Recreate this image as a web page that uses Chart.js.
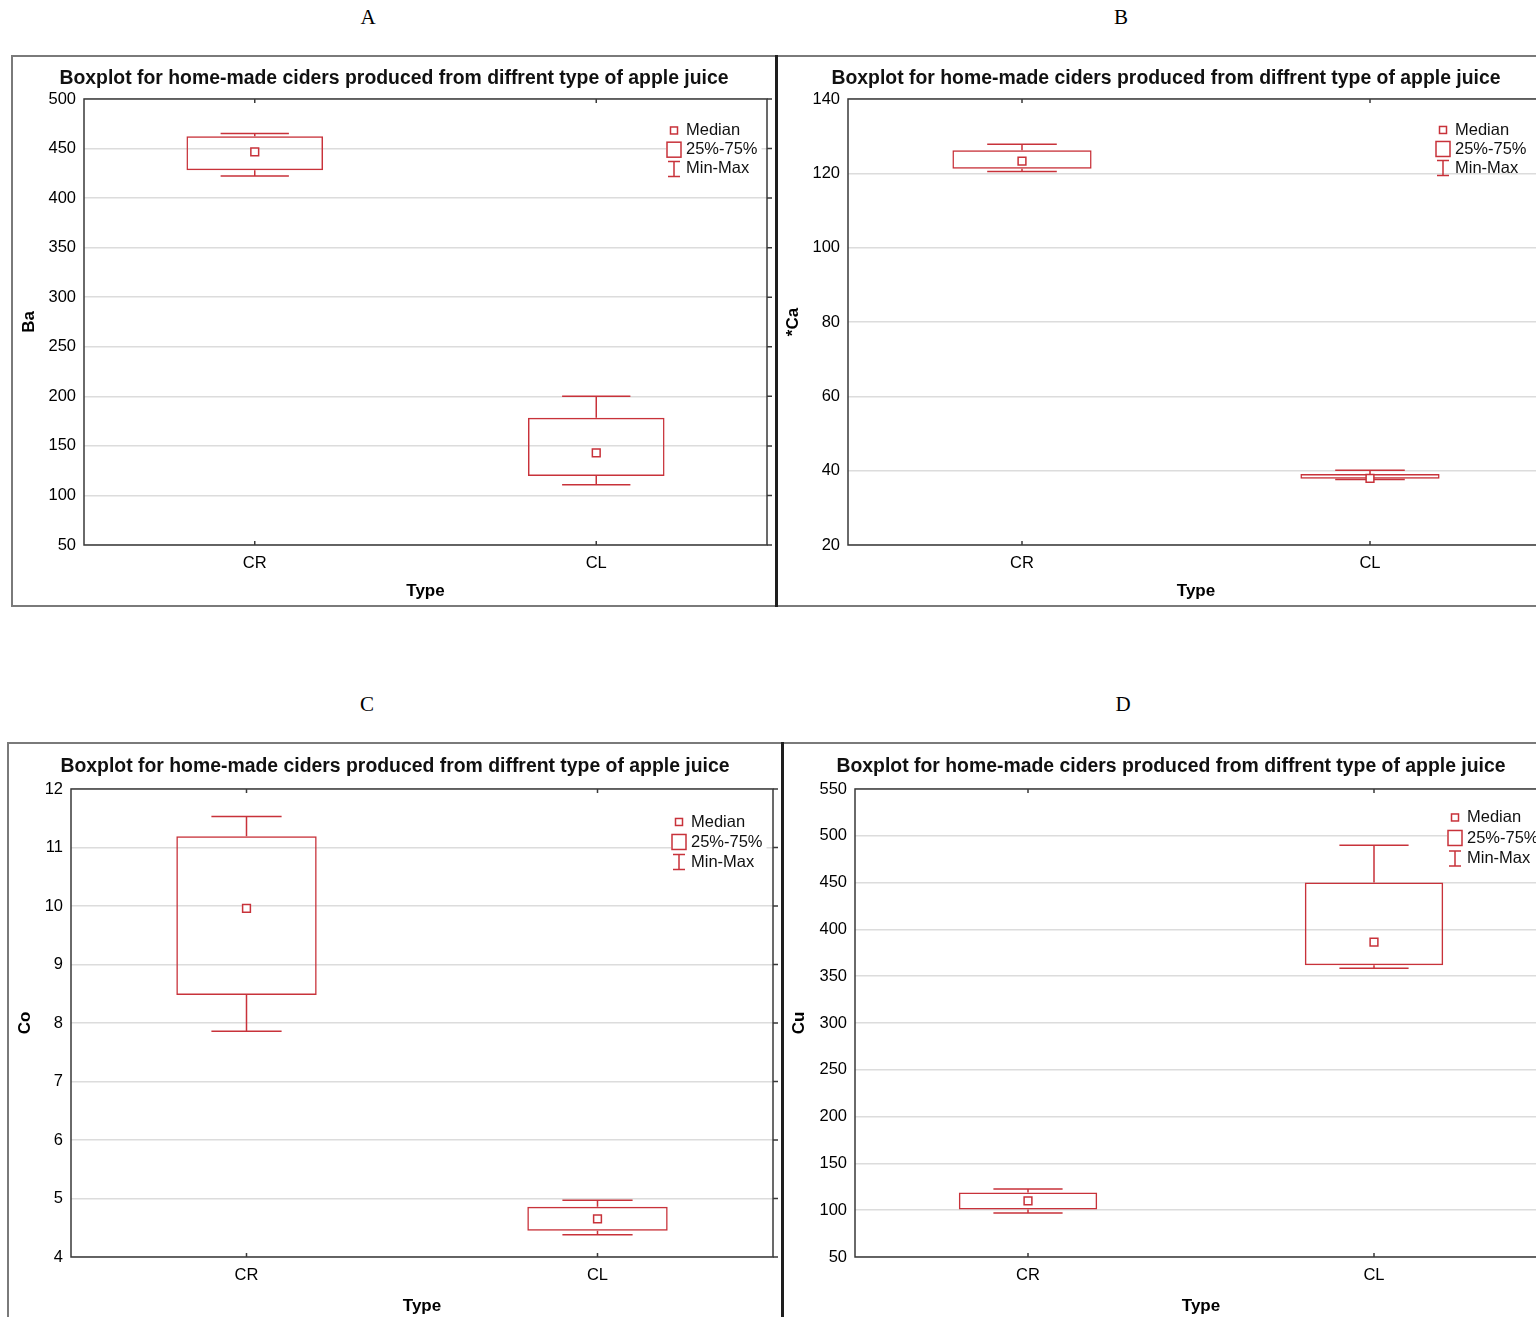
<!DOCTYPE html>
<html>
<head>
<meta charset="utf-8">
<script src="https://cdn.jsdelivr.net/npm/chart.js@4.4.1/dist/chart.umd.min.js"></script>
<style>
    body { margin: 0; width: 1536px; height: 1317px; overflow: hidden; background: #fff; position: relative; }
    canvas { position: absolute; }
    .lbl { position: absolute; font-family: "Liberation Serif", "Times New Roman", serif; font-size: 21px; line-height: 1; transform: translate(-50%, -50%); color: #000; }
    .ln { position: absolute; background: #7a7a7a; }
    .dv { position: absolute; background: #1e1e1e; }
</style>
</head>
<body>
<div class="lbl" style="left:368px; top:17px;">A</div>
<div class="lbl" style="left:1121px; top:17px;">B</div>
<div class="lbl" style="left:367px; top:704px;">C</div>
<div class="lbl" style="left:1123px; top:704px;">D</div>

<canvas id="chartA" width="764" height="550" style="left:12px; top:56px;"></canvas>
<canvas id="chartB" width="776" height="550" style="left:778px; top:56px;"></canvas>
<canvas id="chartC" width="774" height="574" style="left:8px; top:743px;"></canvas>
<canvas id="chartD" width="774" height="574" style="left:784px; top:743px;"></canvas>

<!-- panel frames -->
<div class="ln" style="left:12px; top:55px; width:1524px; height:2px;"></div>
<div class="ln" style="left:11px; top:55px; width:2px; height:552px;"></div>
<div class="ln" style="left:12px; top:605px; width:1524px; height:2px;"></div>
<div class="dv" style="left:775px; top:55px; width:3px; height:552px;"></div>
<div class="ln" style="left:8px; top:742px; width:1528px; height:2px;"></div>
<div class="ln" style="left:7px; top:742px; width:2px; height:575px;"></div>
<div class="dv" style="left:781px; top:742px; width:3px; height:575px;"></div>

<script>
const types = ['CR', 'CL'];
const chartTitle = 'Boxplot for home-made ciders produced from diffrent type of apple juice';
const legendLabels = ['Median', '25%-75%', 'Min-Max'];

// A - Ba
const baMin = [422.4, 110.8];
const baQ1 = [428.1, 119.7];
const baMed = [446.7, 143.0];
const baQ3 = [462.5, 178.5];
const baMax = [465.2, 200.0];
const baAxis = [50, 500, 50];

// B - *Ca
const caMin = [120.5, 37.6];
const caQ1 = [121.2, 37.8];
const caMed = [123.3, 37.9];
const caQ3 = [126.2, 39.1];
const caMax = [127.8, 40.1];
const caAxis = [20, 140, 20];

// C - Co
const coMin = [7.86, 4.38];
const coQ1 = [8.48, 4.45];
const coMed = [9.96, 4.65];
const coQ3 = [11.19, 4.86];
const coMax = [11.53, 4.97];
const coAxis = [4, 12, 1];

// D - Cu
const cuMin = [97.1, 358.6];
const cuQ1 = [100.7, 361.8];
const cuMed = [109.9, 386.4];
const cuQ3 = [118.8, 450.0];
const cuMax = [122.7, 490.0];
const cuAxis = [50, 550, 50];

const RED = '#c8323a';
Chart.defaults.font.family = '"Liberation Sans", Arial, sans-serif';
Chart.defaults.color = '#000';

// whiskers, frame, small ticks and the in-plot legend
const boxDecor = {
    id: 'boxDecor',
    beforeDatasetsDraw(chart) {
        const ds = chart.data.datasets[1];
        const meta = chart.getDatasetMeta(1);
        const y = chart.scales.y;
        const c = chart.ctx;
        c.save();
        c.strokeStyle = RED;
        c.lineWidth = 1.5;
        meta.data.forEach((bar, i) => {
            const cap = bar.width / 4;
            const yHi = y.getPixelForValue(ds.hi[i]);
            const yLo = y.getPixelForValue(ds.lo[i]);
            const yQ3 = y.getPixelForValue(ds.data[i][1]);
            const yQ1 = y.getPixelForValue(ds.data[i][0]);
            c.beginPath();
            c.moveTo(bar.x, yQ3); c.lineTo(bar.x, yHi);
            c.moveTo(bar.x - cap, yHi); c.lineTo(bar.x + cap, yHi);
            c.moveTo(bar.x, yQ1); c.lineTo(bar.x, yLo);
            c.moveTo(bar.x - cap, yLo); c.lineTo(bar.x + cap, yLo);
            c.stroke();
        });
        c.restore();
    },
    afterDatasetsDraw(chart, args, opts) {
        const a = chart.chartArea;
        const c = chart.ctx;
        const x = chart.scales.x;
        const y = chart.scales.y;
        c.save();
        // frame
        c.strokeStyle = '#3a3a3a';
        c.lineWidth = 1.5;
        c.strokeRect(a.left, a.top, a.right - a.left, a.bottom - a.top);
        c.beginPath();
        types.forEach((t, i) => {
            const px = x.getPixelForValue(i);
            c.moveTo(px, a.top); c.lineTo(px, a.top + 4);
            c.moveTo(px, a.bottom); c.lineTo(px, a.bottom - 4);
        });
        y.ticks.forEach(t => {
            const py = y.getPixelForValue(t.value);
            c.moveTo(a.right, py); c.lineTo(a.right + 5, py);
        });
        c.stroke();

        // legend
        const tx = a.right + opts.dx;
        const y0 = a.top + opts.dy;
        const gap = opts.gap;
        const ix = tx - 12;
        c.font = '16.5px "Liberation Sans", Arial, sans-serif';
        const w = Math.max(...legendLabels.map(s => c.measureText(s).width));
        c.fillStyle = '#fff';
        c.fillRect(ix - 8, y0 - 9, w + 24, 2 * gap + 13);
        c.strokeStyle = RED;
        c.lineWidth = 1.5;
        c.strokeRect(ix - 3.5, y0 - 3.5, 7, 7);
        c.strokeRect(ix - 7, y0 + gap - 7.5, 14, 15);
        c.beginPath();
        c.moveTo(ix, y0 + 2 * gap - 7.5); c.lineTo(ix, y0 + 2 * gap + 7.5);
        c.moveTo(ix - 6, y0 + 2 * gap - 7.5); c.lineTo(ix + 6, y0 + 2 * gap - 7.5);
        c.moveTo(ix - 6, y0 + 2 * gap + 7.5); c.lineTo(ix + 6, y0 + 2 * gap + 7.5);
        c.stroke();
        c.fillStyle = '#111';
        c.textAlign = 'left';
        c.textBaseline = 'middle';
        legendLabels.forEach((s, i) => c.fillText(s, tx, y0 + i * gap));
        c.restore();
    }
};

function boxChart(id, p) {
    return new Chart(document.getElementById(id), {
        type: 'bar',
        data: {
            labels: types,
            datasets: [
                {
                    type: 'line',
                    data: p.med,
                    showLine: false,
                    pointStyle: 'rect',
                    pointRadius: 5.5,
                    pointBorderWidth: 1.5,
                    borderColor: RED,
                    backgroundColor: '#fff'
                },
                {
                    data: types.map((t, i) => [p.q1[i], p.q3[i]]),
                    lo: p.min,
                    hi: p.max,
                    backgroundColor: 'rgba(255,255,255,0)',
                    borderColor: RED,
                    borderWidth: 1.5,
                    borderSkipped: false,
                    barPercentage: 0.4,
                    categoryPercentage: 1
                }
            ]
        },
        options: {
            responsive: false,
            animation: false,
            layout: { padding: { left: p.side, right: p.side, top: 0, bottom: 0 } },
            plugins: {
                legend: { display: false },
                tooltip: { enabled: false },
                title: {
                    display: true,
                    text: chartTitle,
                    color: '#111',
                    font: { size: 19.4, weight: 'bold' },
                    padding: { top: p.titleTop, bottom: p.titleBottom }
                },
                boxDecor: p.legend
            },
            scales: {
                x: {
                    grid: { display: false },
                    border: { display: false },
                    ticks: { font: { size: 16.5 }, padding: 1 },
                    title: { display: true, text: 'Type', font: { size: 17, weight: 'bold' }, padding: { bottom: p.xTitlePad } },
                    afterFit: s => { s.height = p.xH; }
                },
                y: {
                    min: p.axis[0],
                    max: p.axis[1],
                    ticks: { stepSize: p.axis[2], font: { size: 16.5 }, padding: 8 },
                    grid: { color: '#dcdcdc', lineWidth: 1.5, drawTicks: false },
                    border: { display: false },
                    title: { display: true, text: p.label, font: { size: 17, weight: 'bold', lineHeight: 0.5 }, padding: { top: p.yTitlePad } },
                    afterFit: s => { s.width = p.yW; }
                }
            }
        },
        plugins: [boxDecor]
    });
}

boxChart('chartA', {
    label: 'Ba', min: baMin, q1: baQ1, med: baMed, q3: baQ3, max: baMax, axis: baAxis,
    yW: 63, xH: 61, side: 9, titleTop: 11.2, titleBottom: 8.5, xTitlePad: 4, yTitlePad: 3.75,
    legend: { dx: -81, dy: 31.5, gap: 19.2 }
});
boxChart('chartB', {
    label: '*Ca', min: caMin, q1: caQ1, med: caMed, q3: caQ3, max: caMax, axis: caAxis,
    yW: 60, xH: 61, side: 10, titleTop: 11.2, titleBottom: 8.5, xTitlePad: 4, yTitlePad: 0.75,
    legend: { dx: -89, dy: 31, gap: 19 }
});
boxChart('chartC', {
    label: 'Co', min: coMin, q1: coQ1, med: coMed, q3: coQ3, max: coMax, axis: coAxis,
    yW: 54, xH: 60, side: 9, titleTop: 12.2, titleBottom: 10.5, xTitlePad: 0, yTitlePad: 3.75,
    legend: { dx: -82, dy: 33, gap: 20 }
});
boxChart('chartD', {
    label: 'Cu', min: cuMin, q1: cuQ1, med: cuMed, q3: cuQ3, max: cuMax, axis: cuAxis,
    yW: 60, xH: 60, side: 11, titleTop: 12.2, titleBottom: 10.5, xTitlePad: 0, yTitlePad: 0,
    legend: { dx: -80, dy: 28.5, gap: 20.5 }
});
</script>
</body>
</html>
